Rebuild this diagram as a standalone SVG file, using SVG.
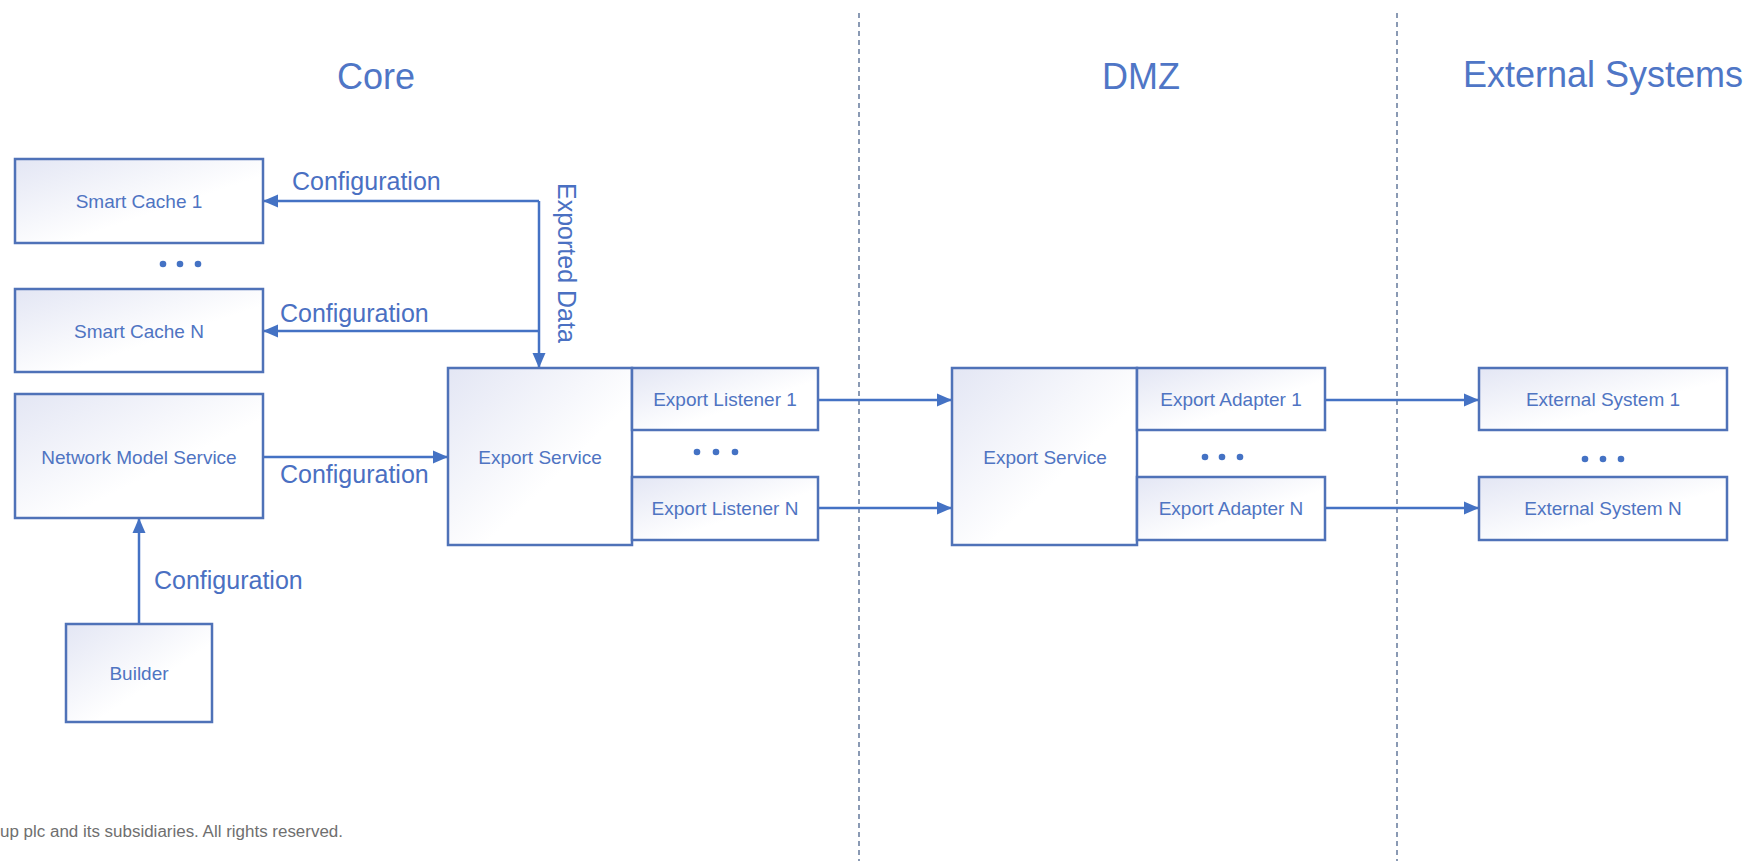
<svg xmlns="http://www.w3.org/2000/svg" width="1755" height="861" viewBox="0 0 1755 861">
  <style>
    .box { stroke: #4f72b8; stroke-width: 2.5; fill: url(#boxFill); }
    .name { font-family: "Liberation Sans", Arial, sans-serif; font-size: 19px; fill: #4f74c2; text-anchor: middle; dominant-baseline: central; }
    .label { font-family: "Liberation Sans", Arial, sans-serif; font-size: 25px; fill: #4a70c2; }
    .title { font-family: "Liberation Sans", Arial, sans-serif; font-size: 36px; fill: #4f76c6; text-anchor: middle; }
    .wire { stroke: #4472c4; stroke-width: 2.5; fill: none; }
    .arrow { marker-end: url(#head); }
    .zone { stroke: #8a9ab4; stroke-width: 2; stroke-dasharray: 5 4; fill: none; }
    .dot { fill: #4472c4; }
    .note { font-family: "Liberation Sans", Arial, sans-serif; font-size: 16px; fill: #6f6f6f; }
  </style>
  <defs>
    <linearGradient id="boxFill" x1="0" y1="0" x2="1" y2="1">
      <stop offset="0" stop-color="#e3e6f4"/>
      <stop offset="0.6" stop-color="#ffffff"/>
      <stop offset="1" stop-color="#ffffff"/>
    </linearGradient>
    <marker id="head" markerUnits="userSpaceOnUse" markerWidth="15" markerHeight="15" viewBox="0 0 15 15" refX="15" refY="7.5" orient="auto">
      <path d="M0,1 L15,7.5 L0,14 Z" fill="#4472c4"/>
    </marker>
  </defs>

  <rect width="1755" height="861" fill="#ffffff"/>

  <!-- zone separators -->
  <g id="zones">
    <line class="zone" x1="859" y1="13" x2="859" y2="861"/>
    <line class="zone" x1="1397" y1="13" x2="1397" y2="861"/>
  </g>

  <!-- zone titles -->
  <g id="titles">
    <text class="title" x="376" y="89">Core</text>
    <text class="title" x="1141" y="89">DMZ</text>
    <text class="title" x="1603" y="87">External Systems</text>
  </g>

  <!-- connectors -->
  <g id="connectors">
    <path class="wire arrow" d="M539,201 H263"/>
    <path class="wire arrow" d="M539,331 H263"/>
    <path class="wire arrow" d="M539,201 V368"/>
    <path class="wire arrow" d="M263,457 H448"/>
    <path class="wire arrow" d="M139,624 V518"/>
    <path class="wire arrow" d="M818,400 H952"/>
    <path class="wire arrow" d="M818,508 H952"/>
    <path class="wire arrow" d="M1325,400 H1479"/>
    <path class="wire arrow" d="M1325,508 H1479"/>
  </g>

  <!-- connector labels -->
  <g id="connector-labels">
    <text class="label" x="292" y="190">Configuration</text>
    <text class="label" x="280" y="322">Configuration</text>
    <text class="label" x="280" y="483">Configuration</text>
    <text class="label" x="154" y="589">Configuration</text>
    <text class="label" transform="translate(558,183) rotate(90)">Exported Data</text>
  </g>

  <g id="smart-cache-1">
    <rect class="box" x="15" y="159" width="248" height="84"/>
    <text class="name" x="139" y="201">Smart Cache 1</text>
  </g>

  <g id="cache-ellipsis">
    <circle class="dot" cx="163" cy="264" r="3.3"/>
    <circle class="dot" cx="180" cy="264" r="3.3"/>
    <circle class="dot" cx="198" cy="264" r="3.3"/>
  </g>

  <g id="smart-cache-n">
    <rect class="box" x="15" y="289" width="248" height="83"/>
    <text class="name" x="139" y="331">Smart Cache N</text>
  </g>

  <g id="network-model-service">
    <rect class="box" x="15" y="394" width="248" height="124"/>
    <text class="name" x="139" y="457">Network Model Service</text>
  </g>

  <g id="builder">
    <rect class="box" x="66" y="624" width="146" height="98"/>
    <text class="name" x="139" y="673">Builder</text>
  </g>

  <g id="core-export-service">
    <rect class="box" x="448" y="368" width="184" height="177"/>
    <text class="name" x="540" y="457">Export Service</text>
  </g>

  <g id="export-listener-1">
    <rect class="box" x="632" y="368" width="186" height="62"/>
    <text class="name" x="725" y="399">Export Listener 1</text>
  </g>

  <g id="listener-ellipsis">
    <circle class="dot" cx="697" cy="452" r="3.3"/>
    <circle class="dot" cx="716" cy="452" r="3.3"/>
    <circle class="dot" cx="735" cy="452" r="3.3"/>
  </g>

  <g id="export-listener-n">
    <rect class="box" x="632" y="477" width="186" height="63"/>
    <text class="name" x="725" y="508">Export Listener N</text>
  </g>

  <g id="dmz-export-service">
    <rect class="box" x="952" y="368" width="185" height="177"/>
    <text class="name" x="1045" y="457">Export Service</text>
  </g>

  <g id="export-adapter-1">
    <rect class="box" x="1137" y="368" width="188" height="62"/>
    <text class="name" x="1231" y="399">Export Adapter 1</text>
  </g>

  <g id="adapter-ellipsis">
    <circle class="dot" cx="1205" cy="457" r="3.3"/>
    <circle class="dot" cx="1222" cy="457" r="3.3"/>
    <circle class="dot" cx="1240" cy="457" r="3.3"/>
  </g>

  <g id="export-adapter-n">
    <rect class="box" x="1137" y="477" width="188" height="63"/>
    <text class="name" x="1231" y="508">Export Adapter N</text>
  </g>

  <g id="external-system-1">
    <rect class="box" x="1479" y="368" width="248" height="62"/>
    <text class="name" x="1603" y="399">External System 1</text>
  </g>

  <g id="external-ellipsis">
    <circle class="dot" cx="1585" cy="459" r="3.3"/>
    <circle class="dot" cx="1603" cy="459" r="3.3"/>
    <circle class="dot" cx="1621" cy="459" r="3.3"/>
  </g>

  <g id="external-system-n">
    <rect class="box" x="1479" y="477" width="248" height="63"/>
    <text class="name" x="1603" y="508">External System N</text>
  </g>

  <text class="note" x="0" y="837" textLength="343" lengthAdjust="spacingAndGlyphs">up plc and its subsidiaries. All rights reserved.</text>
</svg>
